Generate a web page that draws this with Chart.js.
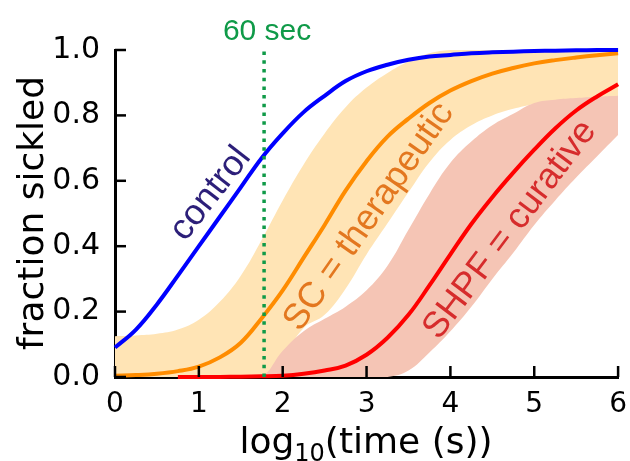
<!DOCTYPE html>
<html>
<head>
<meta charset="utf-8">
<title>fraction sickled vs log time</title>
<script src="https://cdn.jsdelivr.net/npm/chart.js@4.4.1/dist/chart.umd.min.js"></script>
<style>
  body { margin: 0; background: #fff; }
  #chart { display: block; }
</style>
</head>
<body>
<canvas id="chart" width="630" height="461"></canvas>
<script>
// log10(time) grid the curves were read on
const logTime = [0, 0.25, 0.5, 0.75, 1, 1.25, 1.5, 1.75, 2, 2.25, 2.5, 2.75, 3,
                 3.25, 3.5, 3.75, 4, 4.25, 4.5, 4.75, 5, 5.25, 5.5, 5.75, 6];

// control curve
const controlFrac = [0.09, 0.145, 0.222, 0.31, 0.40, 0.49, 0.58, 0.67, 0.745, 0.81, 0.86, 0.905, 0.935,
                     0.955, 0.97, 0.98, 0.985, 0.99, 0.993, 0.995, 0.997, 0.998, 0.999, 1.0, 1.0];

// SC = therapeutic, with its band
const scFrac = [0.004, 0.006, 0.01, 0.018, 0.032, 0.06, 0.105, 0.18, 0.265, 0.365, 0.465, 0.57, 0.66,
                0.735, 0.79, 0.838, 0.876, 0.905, 0.928, 0.945, 0.959, 0.969, 0.977, 0.984, 0.99];
const scHigh = [0.125, 0.127, 0.132, 0.145, 0.175, 0.23, 0.31, 0.42, 0.54, 0.65, 0.745, 0.825, 0.885,
                0.93, 0.965, 0.99, 1.0, 1.0, 1.0, 1.0, 1.0, 1.0, 1.0, 1.0, 1.0];
const scLow = [0, 0, 0, 0, 0, 0, 0, 0, 0.06, 0.15, 0.19, 0.27, 0.375,
               0.47, 0.565, 0.657, 0.725, 0.77, 0.80, 0.82, 0.835, 0.845, 0.851, 0.855, 0.857];

// SHPF = curative, with its band
const shpfFrac = [null, null, null, 0, 0, 0, 0.001, 0.002, 0.004, 0.01, 0.02, 0.035, 0.068,
                  0.12, 0.19, 0.28, 0.375, 0.468, 0.55, 0.625, 0.695, 0.76, 0.815, 0.858, 0.895];
const shpfHigh = [0, 0, 0, 0, 0, 0, 0, 0, 0.08, 0.14, 0.178, 0.215, 0.265,
                  0.34, 0.45, 0.56, 0.655, 0.72, 0.77, 0.805, 0.838, 0.848, 0.853, 0.857, 0.86];
const shpfLow = [0, 0, 0, 0, 0, 0, 0, 0, 0, 0, 0, 0, 0,
                 0, 0.02, 0.075, 0.14, 0.215, 0.30, 0.38, 0.465, 0.54, 0.61, 0.675, 0.74];

// 60 s marker
const markerLogTime = 1.778;
const markerFrac = [0, 1];

// axis ticks
const xTickValues = [0, 1, 2, 3, 4, 5, 6];
const yTickValues = [0, 0.2, 0.4, 0.6, 0.8, 1.0];
const yTickLabels = ['0.0', '0.2', '0.4', '0.6', '0.8', '1.0'];

function pts(ys) {
    return logTime.map((x, i) => ({ x: x, y: ys[i] }));
}

function lineSet(label, ys, color) {
    return {
        label: label, data: pts(ys), borderColor: color, borderWidth: 4,
        pointRadius: 0, fill: false, tension: 0.4, clip: 6
    };
}

function bandEdge(label, ys, fill, color) {
    return {
        label: label, data: pts(ys), borderWidth: 0, borderColor: 'rgba(0,0,0,0)',
        backgroundColor: color, pointRadius: 0, fill: fill, tension: 0.4
    };
}

// inward tick marks, titles and in-plot labels
const decorPlugin = {
    id: 'decor',
    afterDatasetsDraw(chart) {
        const ctx = chart.ctx;
        const xs = chart.scales.x, ys = chart.scales.y;
        const area = chart.chartArea;
        ctx.save();
        ctx.strokeStyle = '#000';
        ctx.lineWidth = 2.5;
        xTickValues.forEach(v => {
            const px = xs.getPixelForValue(v);
            ctx.beginPath(); ctx.moveTo(px, area.bottom); ctx.lineTo(px, area.bottom - 11); ctx.stroke();
        });
        yTickValues.forEach(v => {
            const py = ys.getPixelForValue(v);
            ctx.beginPath(); ctx.moveTo(area.left, py); ctx.lineTo(area.left + 11, py); ctx.stroke();
        });

        // rotated curve labels
        function tilted(text, x, y, angle, color) {
            ctx.save();
            ctx.translate(xs.getPixelForValue(x), ys.getPixelForValue(y));
            ctx.rotate(angle * Math.PI / 180);
            ctx.fillStyle = color;
            ctx.font = '36px "Liberation Sans", Arial, sans-serif';
            ctx.textAlign = 'center';
            ctx.textBaseline = 'middle';
            ctx.fillText(text, 0, 0);
            ctx.restore();
        }
        tilted('control', 1.14, 0.56, -52, '#2c1f79');
        tilted('SC = therapeutic', 3.03, 0.49, -55, '#e3771f');
        tilted('SHPF = curative', 4.71, 0.45, -53, '#d62c2c');

        // 60 sec
        ctx.fillStyle = '#0f9a48';
        ctx.font = '30px "Liberation Sans", Arial, sans-serif';
        ctx.textAlign = 'center';
        ctx.textBaseline = 'alphabetic';
        ctx.fillText('60 sec', xs.getPixelForValue(markerLogTime) + 3, area.top - 10);

        // y title
        ctx.fillStyle = '#000';
        ctx.font = '36px "DejaVu Sans", sans-serif';
        ctx.save();
        ctx.translate(43, 213);
        ctx.rotate(-Math.PI / 2);
        ctx.textAlign = 'center';
        ctx.fillText('fraction sickled', 0, 0);
        ctx.restore();

        // x title with subscript
        const big = '36px "DejaVu Sans", sans-serif';
        const small = '24px "DejaVu Sans", sans-serif';
        ctx.textAlign = 'left';
        ctx.font = big; const w1 = ctx.measureText('log').width;
        const w3 = ctx.measureText('(time (s))').width;
        ctx.font = small; const w2 = ctx.measureText('10').width;
        let x0 = 366 - (w1 + w2 + w3) / 2;
        const base = 453;
        ctx.font = big; ctx.fillText('log', x0, base);
        ctx.font = small; ctx.fillText('10', x0 + w1, base + 8);
        ctx.font = big; ctx.fillText('(time (s))', x0 + w1 + w2, base);
        ctx.restore();
    }
};

new Chart(document.getElementById('chart'), {
    type: 'line',
    data: {
        datasets: [
            {
                label: '60 sec', data: markerFrac.map(y => ({ x: markerLogTime, y: y })),
                borderColor: '#0f9a48', borderWidth: 3.5, borderDash: [3.5, 5.2],
                pointRadius: 0, fill: false, clip: 6
            },
            lineSet('control', controlFrac, '#0000ff'),
            lineSet('SC', scFrac, '#ff8c00'),
            lineSet('SHPF', shpfFrac, '#ff0000'),
            bandEdge('SHPF high', shpfHigh, '+1', '#f5c5b5'),
            bandEdge('SHPF low', shpfLow, false, '#f5c5b5'),
            bandEdge('SC high', scHigh, '+1', '#ffe4b5'),
            bandEdge('SC low', scLow, false, '#ffe4b5')
        ]
    },
    options: {
        responsive: false,
        animation: false,
        layout: { padding: { left: 0, right: 7, top: 50, bottom: 0 } },
        plugins: { legend: { display: false }, tooltip: { enabled: false } },
        scales: {
            x: {
                type: 'linear', min: 0, max: 6,
                grid: { display: false },
                border: { display: true, color: '#000', width: 3 },
                afterBuildTicks: s => { s.ticks = xTickValues.map(v => ({ value: v })); },
                afterFit: s => { s.height = 84; },
                ticks: {
                    color: '#000', padding: 3, maxRotation: 0,
                    font: { family: 'DejaVu Sans', size: 28 },
                    callback: v => String(v)
                }
            },
            y: {
                type: 'linear', min: 0, max: 1,
                grid: { display: false },
                border: { display: true, color: '#000', width: 3 },
                afterBuildTicks: s => { s.ticks = yTickValues.map(v => ({ value: v })); },
                afterFit: s => { s.width = 115; },
                ticks: {
                    color: '#000', padding: 7,
                    font: { family: 'DejaVu Sans', size: 30 },
                    callback: (v, i) => yTickLabels[i]
                }
            }
        }
    },
    plugins: [decorPlugin]
});
</script>
</body>
</html>
